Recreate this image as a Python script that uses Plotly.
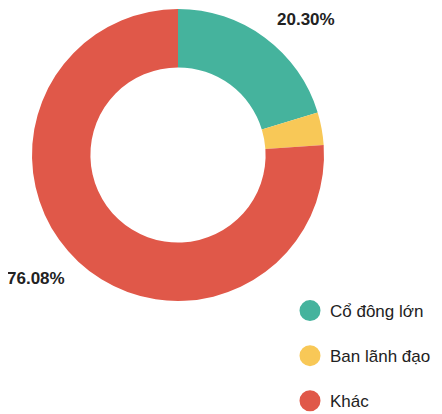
import plotly.graph_objects as go

categories = ["Cổ đông lớn", "Ban lãnh đạo", "Khác"]
values = [20.30, 3.62, 76.08]
colors = ["#45B39D", "#F8C857", "#E05849"]

# page body adds an 8px offset, so figure coordinates are shifted by -8
W, H = 434, 406
label_pos = {0: (297.5 / W, (H - 11.5) / H), 2: (27.5 / W, (H - 270) / H)}

fig = go.Figure()
fig.add_trace(go.Pie(
    labels=categories,
    values=values,
    hole=0.6,
    sort=False,
    direction="clockwise",
    rotation=0,
    marker=dict(colors=colors, line=dict(width=0)),
    textinfo="none",
    hoverinfo="label+percent",
    showlegend=False,
    domain=dict(x=[24 / W, 316 / W], y=[(H - 293) / H, (H - 1) / H]),
))

for name, col in zip(categories, colors):
    fig.add_trace(go.Scatter(
        x=[None], y=[None], mode="markers", name=name,
        legendgroup=name,
        marker=dict(symbol="circle", size=16, color=col, line=dict(color=col, width=5)),
        showlegend=True,
    ))

for i, (px, py) in label_pos.items():
    fig.add_annotation(
        x=px, y=py, xref="paper", yref="paper",
        text=f"<b>{values[i]:.2f}%</b>", showarrow=False,
        font=dict(size=17, color="#222222", family="Liberation Sans, Arial, sans-serif"),
        xanchor="center", yanchor="middle",
    )

fig.update_layout(
    width=W, height=H,
    margin=dict(l=0, r=0, t=0, b=0, autoexpand=False),
    paper_bgcolor="white",
    plot_bgcolor="white",
    xaxis=dict(visible=False),
    yaxis=dict(visible=False),
    font=dict(family="Liberation Sans, Arial, sans-serif", color="#222222"),
    legend=dict(
        x=282 / W, y=(H - 285) / H, xanchor="left", yanchor="top",
        font=dict(size=17, color="#222222"),
        tracegroupgap=20,
        itemsizing="trace",
        bgcolor="rgba(0,0,0,0)",
    ),
)

fig.write_html("out.html")
